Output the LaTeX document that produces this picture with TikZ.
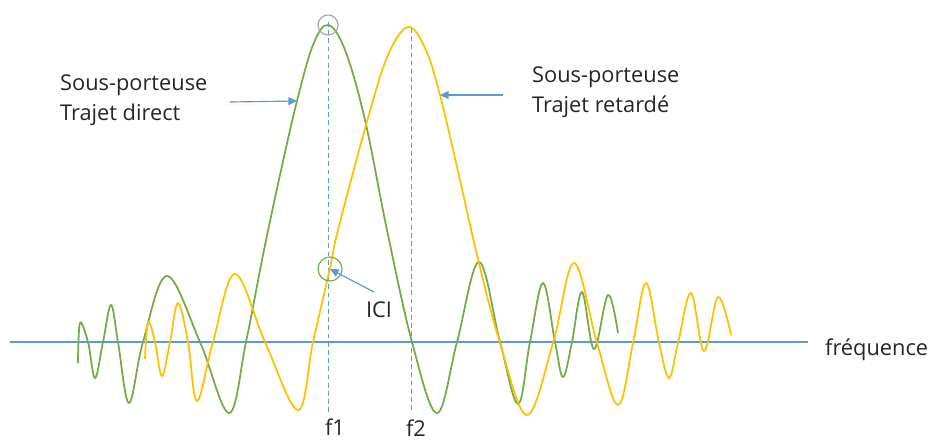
\documentclass[tikz,border=0pt]{standalone}
\usepackage{fontspec}
\setmainfont{Open Sans}
\usetikzlibrary{arrows.meta,positioning}
\definecolor{subgreen}{HTML}{70AD47}
\definecolor{subyellow}{HTML}{FFC000}
\definecolor{axblue}{HTML}{5B9BD5}

\begin{document}
\begin{tikzpicture}[x=0.03cm, y=-0.03cm,
  wave/.style={line width=1.5pt, smooth, tension=0.6},
  axis/.style={draw=axblue, line width=1.1pt},
  guide/.style={draw=axblue, dash pattern=on 4pt off 3pt, line width=0.7pt},
  ptr/.style={-{Triangle[length=2.6mm, width=2.4mm]}, draw=axblue, fill=axblue, line width=1pt},
  ring/.style={draw, circle, line width=1pt, inner sep=0pt},
  lbl/.style={font=\fontsize{18.6}{26}\selectfont, text=black!85, align=left},
]
\useasboundingbox (0,0) rectangle (933,443);

% frequency axis
\draw[axis] (10,342) -- (808,342);
\node[lbl, anchor=west] (freq) at (821,350) {fréquence};

% subcarrier frequencies
\draw[guide] (328,22) -- (328,412);
\draw[guide] (411,28) -- (411,412);
\node[lbl] (f1) at (335,427) {f1};
\node[lbl] (f2) at (416,428) {f2};

% direct path
\draw[wave, subgreen] plot coordinates {(78,363) (80,323) (88,342) (95,378) (103,342) (111,305) (118,342)
  (129,403) (143,342) (167,276) (200,342) (229,413) (246,342) (263,255) (280,175) (297,101) (313,45)
  (328,25) (345,50) (365,120) (387,230) (412,342) (437,413) (457,342) (479,262) (500,342) (518,404)
  (530,342) (543,283) (555,342) (563,377) (572,342) (582,292) (594,349) (608,295) (618,333)};

% delayed path
\draw[wave, subyellow] plot coordinates {(145,359) (148,322) (155,342) (162,376) (170,342) (178,303)
  (188,342) (197,401) (213,342) (235,274) (265,342) (298,410) (313,342) (330,268) (338,230) (368,118)
  (388,55) (408,27) (425,48) (440,95) (460,180) (477,255) (500,343) (527,415) (553,343) (574,263)
  (597,343) (618,405) (633,343) (646,283) (659,343) (669,378) (678,343) (691,293) (704,351) (718,297)
  (731,335)};

% markers
\node[ring, draw=black!35, minimum size=0.6cm] (top) at (328,25) {};
\node[ring, draw=subgreen, minimum size=0.72cm] (ici) at (330,269) {};

% labels
\node[lbl, anchor=west] (subD) at (56,100) {Sous-porteuse\\Trajet direct};
\node[lbl, anchor=west] (subR) at (528,92) {Sous-porteuse\\Trajet retardé};
\node[lbl] (icilbl) at (379,310) {ICI};

\coordinate (tailD) at (230,102);
\coordinate (hitD) at (297,101);
\coordinate (tailR) at (503,95);
\coordinate (hitR) at (440,95);
\coordinate (tailI) at (374,292);
\draw[ptr] (tailD) -- (hitD);
\draw[ptr] (tailR) -- (hitR);
\draw[ptr] (tailI) -- (ici.center);
\end{tikzpicture}
\end{document}
